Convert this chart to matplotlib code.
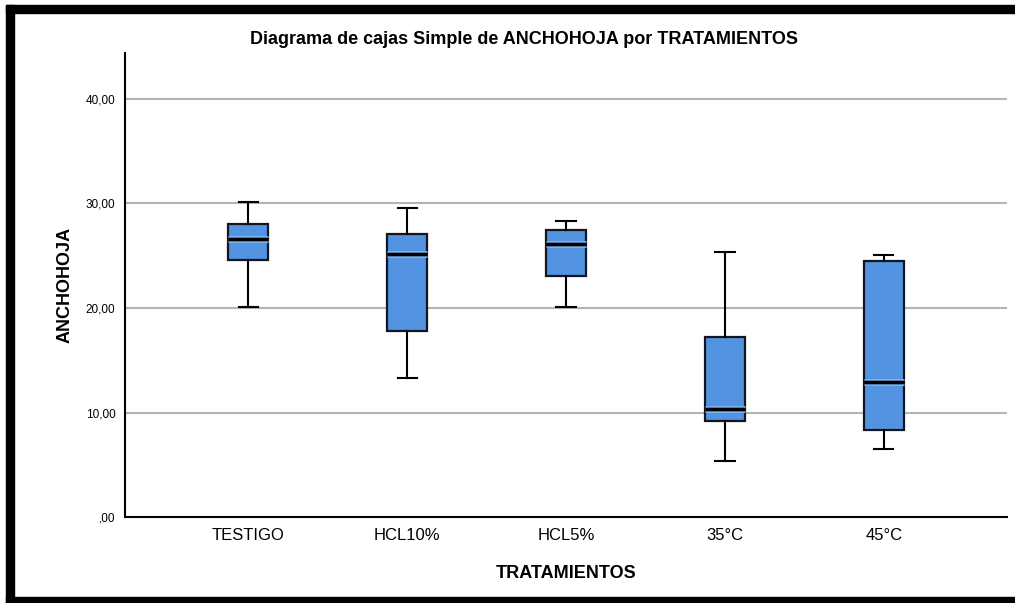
import matplotlib.pyplot as plt
import matplotlib.patheffects as pe
from matplotlib.patches import Rectangle

plt.rcParams['font.family'] = ['Liberation Sans', 'DejaVu Sans']

# Datos (min, Q1, mediana, Q3, max)
tratamientos = ['TESTIGO', 'HCL10%', 'HCL5%', '35°C', '45°C']
bigote_inf = [20.1, 13.3, 20.1, 5.4, 6.5]
q1 = [24.6, 17.8, 23.1, 9.2, 8.3]
mediana = [26.6, 25.2, 26.1, 10.3, 12.9]
q3 = [28.0, 27.1, 27.5, 17.2, 24.5]
bigote_sup = [30.1, 29.6, 28.3, 25.4, 25.1]
ticks_y = [0, 10, 20, 30, 40]
etiquetas_y = [',00', '10,00', '20,00', '30,00', '40,00']

stats = []
for i, nombre in enumerate(tratamientos):
    stats.append({'label': nombre, 'whislo': bigote_inf[i], 'q1': q1[i],
                  'med': mediana[i], 'q3': q3[i], 'whishi': bigote_sup[i],
                  'fliers': []})

fig = plt.figure(figsize=(10.15, 6.03), dpi=100)
ax = fig.add_axes([0.1232, 0.1426, 0.8689, 0.7695])

ax.bxp(stats, positions=range(1, 6), widths=0.25, patch_artist=True,
       boxprops=dict(facecolor='#5294e2', edgecolor='#15151f', linewidth=1.6),
       medianprops=dict(color='black', linewidth=2.4,
                        path_effects=[pe.withStroke(linewidth=5, foreground='#7ab2ee'),
                                      pe.Normal()]),
       whiskerprops=dict(color='black', linewidth=1.5),
       capprops=dict(color='black', linewidth=1.5), capwidths=0.12,
       zorder=3)

ax.set_xlim(0.226, 5.774)
ax.set_ylim(0, 44.4)
ax.set_yticks(ticks_y)
ax.set_yticklabels(etiquetas_y, fontsize=8.5)
ax.tick_params(axis='y', length=0, pad=7)
ax.tick_params(axis='x', length=0, pad=8, labelsize=12)
ax.yaxis.grid(True, color='#b4b4b4', linewidth=1.5)
ax.set_axisbelow(True)

for lado in ['top', 'right']:
    ax.spines[lado].set_visible(False)
ax.spines['left'].set_linewidth(1.5)
ax.spines['bottom'].set_linewidth(1.5)

ax.set_xlabel('TRATAMIENTOS', fontsize=13, fontweight='bold', labelpad=16)
ax.set_ylabel('ANCHOHOJA', fontsize=13, fontweight='bold', labelpad=9)
fig.text(524 / 1015, 1 - 39 / 603,
         'Diagrama de cajas Simple de ANCHOHOJA por TRATAMIENTOS',
         fontsize=13, fontweight='bold', ha='center', va='center')

# Marco negro alrededor de la figura
W, H = 1015, 603
for x0, y0, w, h in [(6, 5, W - 6, 8), (6, 5, 8, 598), (6, 597, W - 6, 6)]:
    fig.patches.append(Rectangle((x0 / W, 1 - (y0 + h) / H), w / W, h / H,
                                 transform=fig.transFigure, color='black'))

fig.savefig('out.png', dpi=100)
